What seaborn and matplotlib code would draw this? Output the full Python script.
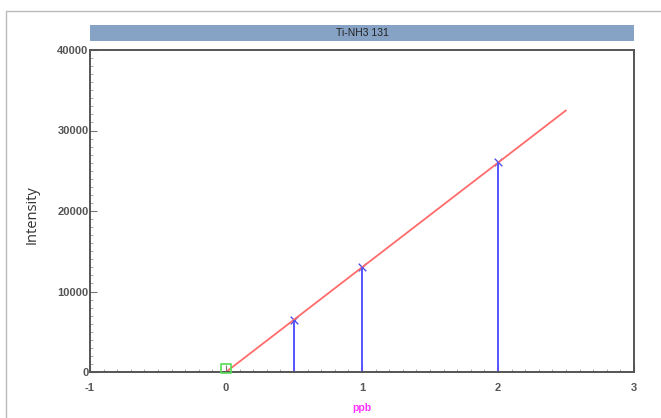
import matplotlib
matplotlib.use("Agg")
import matplotlib.pyplot as plt
from matplotlib.patches import Rectangle
from matplotlib.lines import Line2D
from matplotlib.ticker import MultipleLocator
import seaborn as sns
import pandas as pd

# Data
title = "Ti-NH3 131"
std_conc = [0.5, 1.0, 2.0]
std_intensity = [6500, 13000, 26100]
blank_conc = [0.0]
blank_intensity = [450]
fit_x = [0.0, 2.5]
fit_y = [0.0, 32500]
x_ticks = [-1, 0, 1, 2, 3]
y_ticks = [0, 10000, 20000, 30000, 40000]

sns.set_style("white")
plt.rcParams['font.family'] = ['Liberation Sans', 'DejaVu Sans']
plt.rcParams['xtick.bottom'] = True
plt.rcParams['ytick.left'] = True

fig = plt.figure(figsize=(6.61, 4.18), dpi=100)
ax = fig.add_axes([90/661, 1-372/418, (634-90)/661, (372-50)/418])

std_df = pd.DataFrame({"ppb": std_conc, "Intensity": std_intensity})
blank_df = pd.DataFrame({"ppb": blank_conc, "Intensity": blank_intensity})
fit_df = pd.DataFrame({"ppb": fit_x, "Intensity": fit_y})

sns.lineplot(data=fit_df, x="ppb", y="Intensity", color="#ff6b6b", lw=1.3, ax=ax)
ax.vlines(std_df["ppb"], 0, std_df["Intensity"], color="#5555ff", lw=1.4)
sns.scatterplot(data=std_df, x="ppb", y="Intensity", marker="x", color="#4f4fe8",
                s=30, linewidth=1.0, ax=ax)
sns.scatterplot(data=blank_df, x="ppb", y="Intensity", marker="s", facecolor="none",
                edgecolor="#55dd55", s=45, linewidth=1.2, ax=ax, clip_on=False, zorder=5)

ax.set_xlim(-1, 3)
ax.set_ylim(0, 40000)
ax.set_xticks(x_ticks)
ax.set_yticks(y_ticks)
ax.set_xticklabels([str(t) for t in x_ticks])
ax.set_yticklabels([str(t) for t in y_ticks])
ax.xaxis.set_minor_locator(MultipleLocator(0.1))
ax.yaxis.set_minor_locator(MultipleLocator(1000))
ax.tick_params(axis="both", which="major", direction="in", length=5, width=0.8,
               color="#777777", labelsize=8, labelcolor="#555555",
               bottom=True, left=True)
ax.tick_params(axis="both", which="minor", direction="in", length=2.5, width=0.6,
               color="#999999", bottom=True, left=True)
for lbl in ax.get_xticklabels() + ax.get_yticklabels():
    lbl.set_fontweight("bold")
ax.tick_params(axis="x", which="major", pad=8)
ax.tick_params(axis="y", which="major", pad=1)

for sp in ax.spines.values():
    sp.set_visible(True)
    sp.set_color("#555555")
    sp.set_linewidth(1.4)

ax.set_xlabel("ppb", color="#ff33ff", fontsize=7.5, fontweight="bold", labelpad=7)
ax.set_ylabel("")
fig.text(32/661, 1-215/418, "Intensity", rotation=90, fontsize=10.5, color="#333333",
         family=["Open Sans", "DejaVu Sans"], ha="center", va="center")

# Title bar
fig.patches.append(Rectangle((90/661, 1-41/418), (634-90)/661, 16/418,
                             transform=fig.transFigure, facecolor="#86a2c4",
                             edgecolor="none"))
fig.text((90+634)/2/661, 1-33/418, title, ha="center", va="center", fontsize=7.5,
         color="#222222")

# Outer frame lines
fig.lines.append(Line2D([6/661, 1], [1-11/418, 1-11/418], transform=fig.transFigure,
                        color="#bbbbbb", lw=1.0))
fig.lines.append(Line2D([6/661, 6/661], [0, 1-11/418], transform=fig.transFigure,
                        color="#bbbbbb", lw=1.0))

fig.savefig("out.png", dpi=100)
